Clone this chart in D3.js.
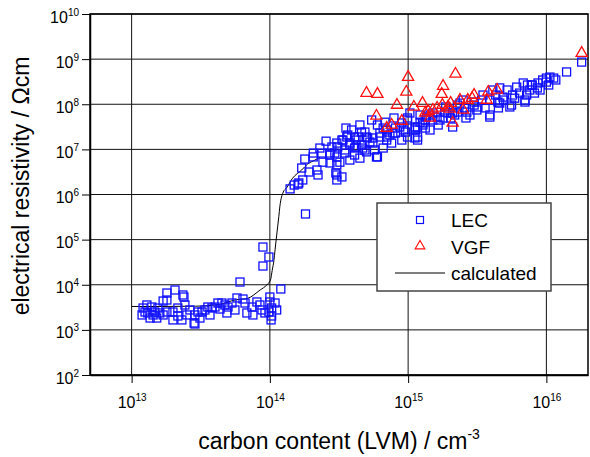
<!DOCTYPE html>
<html>
<head>
<meta charset="utf-8">
<title>electrical resistivity vs carbon content</title>
<script src="https://d3js.org/d3.v7.min.js"></script>
<style>
  body { margin: 0; background: #fff; }
  text { font-family: Arial, "Liberation Sans", sans-serif; fill: #000; }
</style>
</head>
<body>
<svg width="590" height="457"></svg>
<script>
// tick values (decades)
var xTicks = [1e13, 1e14, 1e15, 1e16];
var yTicks = [1e2, 1e3, 1e4, 1e5, 1e6, 1e7, 1e8, 1e9, 1e10];

// LEC samples: carbon content (cm^-3) and resistivity (Ohm cm)
var lecCarbon = [
  1.21e13, 1.29e13, 1.40e13, 1.25e13, 1.31e13, 1.19e13, 1.43e13, 1.47e13, 1.60e13, 1.55e13,
  1.69e13, 1.80e13, 1.80e13, 1.80e13, 2.06e13, 1.99e13, 1.99e13, 2.16e13, 2.31e13, 2.35e13,
  2.51e13, 2.64e13, 2.87e13, 2.83e13, 3.02e13, 3.23e13, 3.39e13, 3.56e13, 3.81e13, 4.01e13,
  4.21e13, 4.50e13, 4.73e13, 4.89e13, 4.98e13, 5.32e13, 5.78e13, 6.08e13, 6.39e13, 6.82e13,
  7.42e13, 7.54e13, 8.48e13, 8.77e13, 8.91e13, 9.84e13, 8.91e13, 1.00e14, 1.00e14, 1.03e14,
  9.84e13, 1.02e14, 1.09e14, 1.12e14, 1.20e14, 2.39e13, 1.69e13, 2.87e13, 1.36e13, 1.52e13,
  2.16e13, 2.43e13, 3.12e13, 3.69e13, 4.36e13, 5.59e13, 6.61e13, 8.06e13, 9.21e13, 1.03e14,
  1.40e14, 1.50e14, 1.62e14, 1.73e14, 1.70e14, 1.79e14, 1.92e14, 2.06e14, 2.19e14, 2.23e14,
  2.38e14, 2.42e14, 2.72e14, 2.72e14, 2.81e14, 3.00e14, 3.05e14, 3.10e14, 3.32e14, 3.21e14,
  3.49e14, 3.79e14, 3.79e14, 4.10e14, 4.20e14, 4.48e14, 4.87e14, 5.29e14, 5.56e14, 5.90e14,
  6.60e14, 7.00e14, 7.60e14, 8.10e14, 9.00e14, 9.60e14, 1.81e14, 3.66e14, 4.35e14, 5.00e14,
  3.38e14, 1.60e14, 2.06e14, 2.72e14, 3.05e14, 3.05e14, 4.87e14, 5.56e14, 6.25e14, 7.00e14,
  7.75e14, 8.70e14, 9.90e14, 1.13e15, 1.28e15, 1.17e15, 1.36e15, 1.51e15,
  3.05e14, 3.32e14, 3.60e14, 3.79e14, 4.20e14, 4.60e14, 4.70e14, 5.10e14, 5.70e14, 6.25e14,
  6.60e14, 7.00e14, 7.38e14, 8.10e14, 9.00e14, 9.90e14, 1.03e15, 1.12e15, 1.17e15, 1.22e15,
  1.33e15, 1.44e15, 1.62e15, 1.79e15, 1.94e15, 2.10e15, 2.27e15, 1.13e15, 2.95e14, 3.49e14,
  4.10e14, 5.00e14, 3.05e14, 6.00e14,
  2.17e15, 2.62e15, 3.14e15, 3.90e15, 3.48e15, 4.46e15, 4.85e15, 5.60e15, 5.70e15, 6.80e15,
  7.00e15, 7.59e15, 8.20e15, 8.70e15, 9.40e15, 1.00e16, 1.06e16, 1.13e16, 1.40e16, 1.80e16,
  1.87e15, 2.37e15, 3.00e15, 4.10e15, 4.60e15, 6.10e15, 7.30e15, 8.60e15, 1.70e15, 2.50e15,
  3.20e15, 7.00e15, 5.44e15, 3.90e15, 9.30e14, 1.17e15, 1.44e15, 2.10e15, 3.90e15, 4.60e15,
  2.66e15, 9.90e14, 1.12e15, 1.27e15, 1.51e15, 7.90e15,
  1.84e15, 2.03e15, 2.27e15, 2.55e15, 2.80e15, 3.00e15, 3.40e15, 3.60e15, 4.30e15, 4.50e15,
  4.90e15, 5.20e15, 5.90e15, 6.40e15, 7.20e15, 7.85e15, 9.00e15, 1.00e16, 1.04e16, 1.17e16,
  1.22e15, 1.33e15, 1.65e15, 7.90e14, 6.80e14,
  2.30e14, 2.55e14, 3.90e14, 3.55e14, 4.48e14, 5.45e14, 6.00e14, 4.10e14, 4.60e14
];
var lecRho = [
  3.05e3, 3.56e3, 3.21e3, 2.49e3, 2.37e3, 2.14e3, 2.14e3, 2.49e3, 2.37e3, 3.05e3,
  2.14e3, 2.49e3, 6.56e3, 4.59e3, 7.65e3, 2.49e3, 1.66e3, 3.05e3, 1.66e3, 5.93e3,
  2.14e3, 2.76e3, 2.14e3, 1.42e3, 2.49e3, 2.49e3, 2.76e3, 3.21e3, 3.05e3, 3.21e3,
  3.94e3, 3.94e3, 3.56e3, 2.37e3, 3.21e3, 3.94e3, 5.09e3, 1.15e4, 4.83e3, 2.37e3,
  3.21e3, 2.14e3, 3.56e3, 2.76e3, 6.85e4, 4.12e4, 2.60e4, 5.35e3, 4.15e3, 3.05e3,
  2.49e3, 1.66e3, 3.94e3, 2.76e3, 8.05e3, 5.35e3, 4.36e3, 1.35e3, 1.83e3, 1.83e3,
  2.03e3, 3.56e3, 1.83e3, 2.14e3, 2.90e3, 2.76e3, 3.94e3, 4.15e3, 2.37e3, 2.03e3,
  1.33e6, 1.62e6, 1.80e6, 2.10e6, 3.86e6, 6.10e6, 3.15e6, 6.80e6, 3.49e6, 2.71e6,
  8.30e6, 5.20e6, 5.00e6, 7.50e6, 1.13e7, 3.00e6, 2.10e6, 1.13e7, 2.45e6, 5.20e6,
  8.30e6, 5.80e6, 1.38e7, 7.50e6, 1.13e7, 6.40e6, 9.70e6, 1.45e7, 1.79e7, 6.80e6,
  1.07e7, 1.88e7, 1.38e7, 2.30e7, 1.61e7, 2.42e7, 3.70e5, 2.08e7, 1.88e7, 1.88e7,
  1.61e7, 1.70e6, 8.30e6, 8.30e6, 2.71e6, 4.50e6, 2.42e7, 1.38e7, 1.88e7, 2.69e7,
  2.30e7, 3.13e7, 4.48e7, 2.97e7, 3.47e7, 1.61e7, 5.20e7, 6.40e7,
  1.38e7, 1.61e7, 1.88e7, 1.25e7, 1.61e7, 2.42e7, 1.07e7, 1.79e7, 9.70e6, 2.30e7,
  2.97e7, 1.61e7, 2.08e7, 2.97e7, 3.85e7, 4.96e7, 6.40e7, 3.13e7, 1.88e7, 4.00e7,
  4.48e7, 5.78e7, 5.20e7, 4.96e7, 6.40e7, 6.40e7, 6.70e7, 2.69e7, 8.30e6, 9.70e6,
  1.07e7, 8.80e6, 6.80e6, 6.80e6,
  5.78e7, 4.96e7, 7.46e7, 5.78e7, 1.60e8, 1.12e8, 1.44e8, 9.60e7, 1.60e8, 2.96e8,
  1.24e8, 2.07e8, 1.77e8, 2.96e8, 3.45e8, 3.10e8, 4.00e8, 3.80e8, 5.20e8, 8.60e8,
  8.70e7, 1.06e8, 1.12e8, 2.07e8, 2.30e8, 2.40e8, 2.67e8, 2.30e8, 4.48e7, 1.24e8,
  8.70e7, 1.12e8, 8.70e7, 5.20e7, 2.69e7, 3.13e7, 2.69e7, 3.13e7, 1.24e8, 1.06e8,
  6.70e7, 1.88e7, 1.79e7, 3.85e7, 4.48e7, 2.67e8,
  6.70e7, 4.96e7, 9.60e7, 8.30e7, 5.78e7, 9.60e7, 1.24e8, 8.30e7, 1.60e8, 8.30e7,
  1.24e8, 2.07e8, 1.36e8, 1.77e8, 1.60e8, 2.67e8, 2.07e8, 3.80e8, 2.67e8, 3.45e8,
  5.78e7, 2.97e7, 3.47e7, 4.96e7, 4.00e7,
  1.07e7, 1.52e7, 2.69e7, 2.97e7, 3.47e7, 4.48e7, 3.47e7, 1.88e7, 1.25e7
];

// VGF samples
var vgfCarbon = [
  5.0e14, 6.0e14, 1.0e15, 9.7e14, 8.3e14, 5.9e14, 1.1e15, 1.27e15, 1.33e15, 1.44e15,
  1.62e15, 1.77e15, 1.79e15, 1.75e15, 1.94e15, 2.03e15, 2.2e15, 2.1e15, 9.0e14, 7.6e14,
  7.0e14, 1.4e15, 2.37e15, 2.7e15, 3.0e15, 3.8e15, 4.4e15, 3.7e15, 1.51e15, 2.5e15,
  2.9e15, 1.8e16, 2.0e15
];
var vgfRho = [
  1.77e8, 1.68e8, 4.0e8, 1.87e8, 9.6e7, 5.5e7, 8.7e7, 1.06e8, 6.4e7, 4.96e7,
  8.3e7, 9.6e7, 2.53e8, 1.68e8, 8.7e7, 1.06e8, 4.7e8, 3.85e7, 4.25e7, 3.47e7,
  2.97e7, 7.0e7, 1.24e8, 1.24e8, 1.6e8, 1.87e8, 2.07e8, 1.24e8, 7.46e7, 7.46e7,
  1.36e8, 1.36e9, 7.9e7
];

// calculated curve
var calcCarbon = [1.0e13, 1.6e13, 2.9e13, 4.36e13, 5.6e13, 6.9e13, 8.5e13, 9.5e13, 1.01e14, 1.04e14,
  1.07e14, 1.09e14, 1.12e14, 1.16e14, 1.18e14, 1.25e14, 1.32e14, 1.46e14, 1.70e14, 1.87e14, 2.12e14, 2.3e14];
var calcRho = [3.3e3, 3.3e3, 3.35e3, 3.7e3, 4.6e3, 5.0e3, 7.65e3, 9.9e3, 1.27e4, 2.1e4,
  3.5e4, 5.9e4, 1.26e5, 3.2e5, 5.3e5, 1.13e6, 1.4e6, 2.3e6, 3.5e6, 4.7e6, 5.8e6, 6.7e6];

var legendLabels = ["LEC", "VGF", "calculated"];

var svg = d3.select("svg");
var pLeft = 90, pRight = 588, pTop = 14, pBottom = 375;

var x = d3.scaleLog().domain([5e12, 2e16]).range([pLeft, pRight]);
var y = d3.scaleLog().domain([1e2, 1e10]).range([pBottom, pTop]);

function isDecade(v) { return Math.abs(Math.log10(v) - Math.round(Math.log10(v))) < 1e-9; }
var xMinor = x.ticks().filter(function (d) { return !isDecade(d); });
var yMinor = y.ticks().filter(function (d) { return !isDecade(d); });

// grid
svg.append("g").selectAll("line").data(xTicks).enter().append("line")
  .attr("x1", function (d) { return x(d); }).attr("x2", function (d) { return x(d); })
  .attr("y1", pTop).attr("y2", pBottom)
  .attr("stroke", "#111").attr("stroke-width", 1);
svg.append("g").selectAll("line").data(yTicks).enter().append("line")
  .attr("x1", pLeft).attr("x2", pRight)
  .attr("y1", function (d) { return y(d); }).attr("y2", function (d) { return y(d); })
  .attr("stroke", "#111").attr("stroke-width", 1);

function powLabel(text) {
  text.each(function (d) {
    var t = d3.select(this);
    t.text(null);
    t.append("tspan").text("10");
    t.append("tspan").attr("dy", -7).attr("font-size", 10).text(Math.round(Math.log10(d)));
  });
}

// x axis
var gx = svg.append("g").attr("transform", "translate(0," + pBottom + ")");
gx.call(d3.axisBottom(x).tickValues(xMinor).tickSize(5).tickSizeOuter(0).tickFormat(""));
gx.call(d3.axisBottom(x).tickValues(xTicks).tickSize(8).tickSizeOuter(0));
gx.selectAll("path").attr("stroke-width", 1.5);
gx.selectAll("text").attr("font-size", 16).attr("y", 33).attr("dy", 0).call(powLabel);

// y axis
var gy = svg.append("g").attr("transform", "translate(" + pLeft + ",0)");
gy.call(d3.axisLeft(y).tickValues(yMinor).tickSize(5).tickSizeOuter(0).tickFormat(""));
gy.call(d3.axisLeft(y).tickValues(yTicks).tickSize(8).tickSizeOuter(0));
gy.selectAll("path").attr("stroke-width", 1.5);
gy.selectAll("text").attr("font-size", 16).attr("x", -11).attr("dy", 8).call(powLabel);

// frame
svg.append("rect").attr("x", pLeft).attr("y", pTop)
  .attr("width", pRight - pLeft).attr("height", pBottom - pTop)
  .attr("fill", "none").attr("stroke", "#000").attr("stroke-width", 1.5);

// calculated curve
var calc = calcCarbon.map(function (c, i) { return [c, calcRho[i]]; });
svg.append("path").datum(calc)
  .attr("fill", "none").attr("stroke", "#000").attr("stroke-width", 1)
  .attr("d", d3.line().curve(d3.curveMonotoneX)
    .x(function (d) { return x(d[0]); }).y(function (d) { return y(d[1]); }));

// LEC squares
svg.append("g").selectAll("rect").data(lecCarbon).enter().append("rect")
  .attr("x", function (d) { return x(d) - 4; })
  .attr("y", function (d, i) { return y(lecRho[i]) - 4; })
  .attr("width", 8).attr("height", 8)
  .attr("fill", "none").attr("stroke", "#1010ff").attr("stroke-width", 1.3);

// VGF triangles
var tri = d3.symbol().type(d3.symbolTriangle).size(54);
svg.append("g").selectAll("path").data(vgfCarbon).enter().append("path")
  .attr("d", tri)
  .attr("transform", function (d, i) { return "translate(" + x(d) + "," + y(vgfRho[i]) + ")"; })
  .attr("fill", "none").attr("stroke", "#ff1010").attr("stroke-width", 1.3);

// legend
var lg = svg.append("g");
lg.append("rect").attr("x", 377).attr("y", 203).attr("width", 174).attr("height", 88)
  .attr("fill", "#fff").attr("stroke", "#444").attr("stroke-width", 1.5);
lg.append("rect").attr("x", 416.5).attr("y", 216.5).attr("width", 7).attr("height", 7)
  .attr("fill", "none").attr("stroke", "#1010ff").attr("stroke-width", 1.2);
lg.append("path").attr("d", d3.symbol().type(d3.symbolTriangle).size(40)).attr("transform", "translate(420,246)")
  .attr("fill", "none").attr("stroke", "#ff1010").attr("stroke-width", 1.2);
lg.append("line").attr("x1", 395).attr("x2", 445).attr("y1", 273).attr("y2", 273)
  .attr("stroke", "#000").attr("stroke-width", 1);
lg.selectAll("text").data(legendLabels).enter().append("text")
  .attr("x", 451).attr("y", function (d, i) { return 227 + i * 26.5; })
  .attr("font-size", 19).text(function (d) { return d; });

// axis titles
var xt = svg.append("text").attr("x", 339).attr("y", 449)
  .attr("text-anchor", "middle").attr("font-size", 23);
xt.append("tspan").text("carbon content (LVM) / cm");
xt.append("tspan").attr("dy", -10).attr("font-size", 14).text("-3");

svg.append("text").attr("transform", "translate(29,186) rotate(-90)")
  .attr("text-anchor", "middle").attr("font-size", 23)
  .text("electrical resistivity / \u03A9cm");
</script>
</body>
</html>
